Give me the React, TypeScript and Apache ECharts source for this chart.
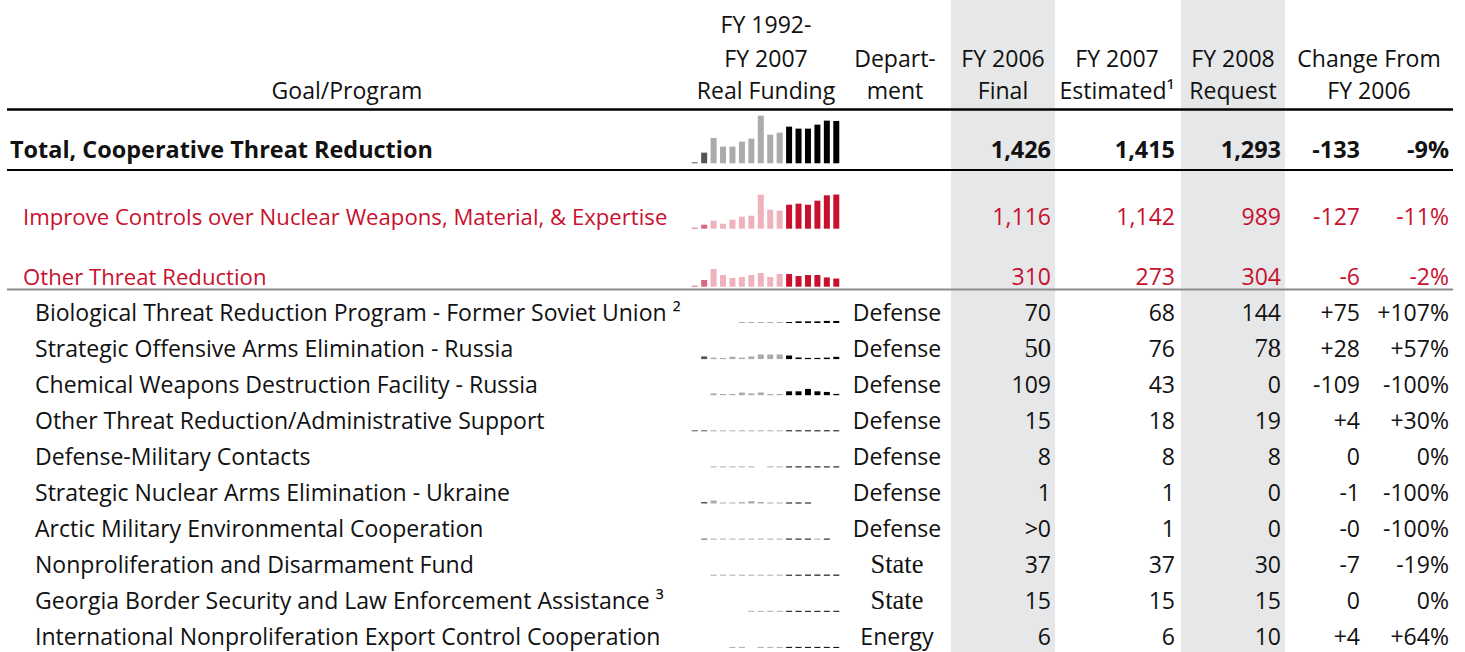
import React, { useEffect, useRef } from "react";
import * as echarts from "echarts";

// ---------- DATA ----------
const YEARS = ["1992","1993","1994","1995","1996","1997","1998","1999","2000","2001","2002","2003","2004","2005","2006","2007"];

const PROGRAMS = [
  "Total, Cooperative Threat Reduction",
  "Improve Controls over Nuclear Weapons, Material, & Expertise",
  "Other Threat Reduction",
  "Biological Threat Reduction Program - Former Soviet Union \u00B2",
  "Strategic Offensive Arms Elimination - Russia",
  "Chemical Weapons Destruction Facility - Russia",
  "Other Threat Reduction/Administrative Support",
  "Defense-Military Contacts",
  "Strategic Nuclear Arms Elimination - Ukraine",
  "Arctic Military Environmental Cooperation",
  "Nonproliferation and Disarmament Fund",
  "Georgia Border Security and Law Enforcement Assistance \u00B3",
  "International Nonproliferation Export Control Cooperation",
];
const DEPARTMENTS = ["", "", "", "Defense", "Defense", "Defense", "Defense", "Defense", "Defense", "Defense", "State", "State", "Energy"];
const FY2006_FINAL = ["1,426", "1,116", "310", "70", "50", "109", "15", "8", "1", ">0", "37", "15", "6"];
const FY2007_ESTIMATED = ["1,415", "1,142", "273", "68", "76", "43", "18", "8", "1", "1", "37", "15", "6"];
const FY2008_REQUEST = ["1,293", "989", "304", "144", "78", "0", "19", "8", "0", "0", "30", "15", "10"];
const CHANGE_ABS = ["-133", "-127", "-6", "+75", "+28", "-109", "+4", "0", "-1", "-0", "-7", "0", "+4"];
const CHANGE_PCT = ["-9%", "-11%", "-2%", "+107%", "+57%", "-100%", "+30%", "0%", "-100%", "-100%", "-19%", "0%", "+64%"];

// Real funding FY1992-FY2007 (millions), read from the sparklines
const TOTAL_FUNDING = [22, 356, 847, 557, 557, 724, 824, 1593, 958, 1025, 1225, 1159, 1159, 1292, 1426, 1415];
const NUCLEAR_FUNDING = [12, 134, 267, 167, 301, 401, 434, 1136, 635, 602, 802, 836, 802, 936, 1116, 1142];
const OTHER_FUNDING = [10, 223, 590, 390, 290, 323, 390, 457, 323, 423, 423, 356, 390, 390, 310, 273];
const BIO_FUNDING = [null, null, null, null, null, 30, 30, 30, 30, 30, 25, 55, 55, 55, 70, 68];
const SOAE_FUNDING = [null, 90, 50, 35, 80, 50, 90, 155, 155, 155, 120, 55, 40, 40, 50, 76];
const CHEM_FUNDING = [null, null, 60, 40, 40, 90, 60, 90, 40, 40, 130, 130, 210, 130, 109, 43];
const ADMIN_FUNDING = [20, 20, 20, 25, 20, 20, 25, 20, 20, 20, 15, 15, 15, 15, 15, 18];
const MIL_FUNDING = [null, null, 10, 10, 10, 10, 10, null, 10, 10, 8, 8, 8, 8, 8, 8];
const UKR_FUNDING = [null, 50, 100, 25, 25, 45, 80, 50, 25, 25, 20, 20, 20, null, null, null];
const ARCTIC_FUNDING = [null, 5, 5, 5, 5, 5, 5, 5, 5, 5, 5, 5, 5, 5, 5, null];
const NDF_FUNDING = [null, null, 25, 25, 25, 25, 25, 25, 25, 25, 30, 30, 37, 37, 37, 37];
const GEORGIA_FUNDING = [null, null, null, null, null, null, 15, 15, 15, 15, 15, 15, 15, 15, 15, 15];
const INECC_FUNDING = [null, null, null, null, 8, 8, null, 8, 8, 8, 6, 6, 6, 6, 6, 6];

const FUNDING = [TOTAL_FUNDING, NUCLEAR_FUNDING, OTHER_FUNDING, BIO_FUNDING, SOAE_FUNDING, CHEM_FUNDING, ADMIN_FUNDING, MIL_FUNDING, UKR_FUNDING, ARCTIC_FUNDING, NDF_FUNDING, GEORGIA_FUNDING, INECC_FUNDING];

// tone per year: D = early, L = middle, B = recent
const DEFAULT_TONES = "DDLLLLLLLLBBBBBB";
const ARCTIC_TONES = "DDLLLLLLLLBBBLBB";
const ROW_TONES = [DEFAULT_TONES, DEFAULT_TONES, DEFAULT_TONES, DEFAULT_TONES, DEFAULT_TONES, DEFAULT_TONES, DEFAULT_TONES, DEFAULT_TONES, DEFAULT_TONES, ARCTIC_TONES, DEFAULT_TONES, DEFAULT_TONES, DEFAULT_TONES];

// ---------- STYLE ----------
const SANS = "'Open Sans', sans-serif";
const SERIF = "'Liberation Serif', serif";
const RED = "#c8102e";
const INK = "#111111";
const GRAY_PAL: Record<string, string> = { D: "#555555", L: "#ababab", B: "#000000" };
const RED_PAL: Record<string, string> = { D: "#d8687f", L: "#efb1bc", B: "#c8102e" };
const SERIF_CELLS = new Set(["4:fy06", "4:fy08", "10:dept", "11:dept"]);

function measure(text: string, font: string) {
  const c = document.createElement("canvas").getContext("2d")!;
  c.font = font;
  return c.measureText(text).width;
}

export default function App() {
  const ref = useRef<HTMLDivElement>(null);
  useEffect(() => {
    if (!ref.current) return;
    const chart = echarts.init(ref.current, null, { renderer: "svg" });

    const fit = (text: string, target: number, weight: string) =>
      Math.min(24, Math.max(16, (100 * target) / (measure(text, `${weight} 100px ${SANS}`) || 2743)));
    const bodySize = fit("Biological Threat Reduction Program - Former Soviet Union", 632, "normal");
    const boldSize = fit("Total, Cooperative Threat Reduction", 423, "bold");
    const redSize = fit("Improve Controls over Nuclear Weapons, Material, & Expertise", 645, "normal");
    const serifSize = bodySize * 1.15;

    const rowY = (i: number) => (i === 0 ? 149 : i === 1 ? 216 : i === 2 ? 276 : 312 + 36 * (i - 3));
    const baseY = (i: number) => (i === 0 ? 163.3 : i === 1 ? 228.7 : i === 2 ? 286.7 : 323 + 36.1 * (i - 3));

    const elements: any[] = [];
    const txt = (x: number, y: number, text: string, opts: any = {}) => {
      const align = opts.align || "left";
      elements.push({
        type: "text",
        x, y, z: 10,
        style: {
          text,
          fill: opts.fill || INK,
          fontSize: opts.size || bodySize,
          fontFamily: opts.family || SANS,
          fontWeight: opts.weight || "normal",
          align, verticalAlign: "middle",
          textAlign: align, textVerticalAlign: "middle",
        },
      });
    };

    // shaded columns
    elements.push({ type: "rect", z: 0, shape: { x: 951, y: 0, width: 104, height: 652 }, style: { fill: "#e6e7e8" } });
    elements.push({ type: "rect", z: 0, shape: { x: 1181, y: 0, width: 104, height: 652 }, style: { fill: "#e6e7e8" } });
    // rules
    elements.push({ type: "line", z: 5, shape: { x1: 7, y1: 109.5, x2: 1453, y2: 109.5 }, style: { stroke: "#000", lineWidth: 2.5 } });
    elements.push({ type: "line", z: 5, shape: { x1: 7, y1: 170, x2: 1453, y2: 170 }, style: { stroke: "#000", lineWidth: 2 } });
    elements.push({ type: "line", z: 5, shape: { x1: 7, y1: 289.5, x2: 1453, y2: 289.5 }, style: { stroke: "#8c8c8c", lineWidth: 2 } });

    // header
    txt(347, 90, "Goal/Program", { align: "center" });
    txt(766, 24, "FY 1992-", { align: "center" });
    txt(766, 58, "FY 2007", { align: "center" });
    txt(766, 90, "Real Funding", { align: "center" });
    txt(895, 58, "Depart-", { align: "center" });
    txt(895, 90, "ment", { align: "center" });
    txt(1003, 58, "FY 2006", { align: "center" });
    txt(1003, 90, "Final", { align: "center" });
    txt(1117, 58, "FY 2007", { align: "center" });
    txt(1117, 90, "Estimated\u00B9", { align: "center" });
    txt(1233, 58, "FY 2008", { align: "center" });
    txt(1233, 90, "Request", { align: "center" });
    txt(1369, 58, "Change From", { align: "center" });
    txt(1369, 90, "FY 2006", { align: "center" });

    // rows
    PROGRAMS.forEach((name, i) => {
      const y = rowY(i);
      const isTotal = i === 0;
      const isRed = i === 1 || i === 2;
      const fill = isRed ? RED : INK;
      const weight = isTotal ? "bold" : "normal";
      const size = isTotal ? boldSize : bodySize;
      const x = isTotal ? 10 : isRed ? 23 : 35;
      txt(x, y, name, { fill, weight, size: isRed ? redSize : size });
      if (DEPARTMENTS[i]) {
        const serif = SERIF_CELLS.has(i + ":dept");
        txt(897, y, DEPARTMENTS[i], { align: "center", family: serif ? SERIF : SANS, size: serif ? serifSize : bodySize });
      }
      const cells: [string, number, string][] = [
        [FY2006_FINAL[i], 1051, "fy06"],
        [FY2007_ESTIMATED[i], 1175, "fy07"],
        [FY2008_REQUEST[i], 1281, "fy08"],
        [CHANGE_ABS[i], 1360, "chg"],
        [CHANGE_PCT[i], 1449, "pct"],
      ];
      cells.forEach(([v, cx, key]) => {
        const serif = SERIF_CELLS.has(i + ":" + key);
        txt(cx, y, v, { align: "right", fill, weight, size: serif ? serifSize : size, family: serif ? SERIF : SANS });
      });
    });

    // sparklines
    const grid: any[] = [];
    const xAxis: any[] = [];
    const yAxis: any[] = [];
    const series: any[] = [];
    FUNDING.forEach((vals, i) => {
      const b = baseY(i);
      const pal = i === 1 || i === 2 ? RED_PAL : GRAY_PAL;
      const tones = ROW_TONES[i];
      grid.push({ left: 690, top: b - 50, width: 151, height: 50 });
      xAxis.push({ type: "category", gridIndex: i, data: YEARS, show: false, boundaryGap: true });
      yAxis.push({ type: "value", gridIndex: i, min: 0, max: 1671, show: false });
      series.push({
        type: "bar",
        xAxisIndex: i,
        yAxisIndex: i,
        barWidth: 6,
        barMinHeight: 1,
        silent: true,
        data: vals.map((v, k) => (v == null ? "-" : { value: v, itemStyle: { color: pal[tones[k]] } })),
      });
    });

    chart.setOption({
      animation: false,
      grid,
      xAxis,
      yAxis,
      series,
      graphic: { elements },
    });
    return () => chart.dispose();
  }, []);
  return <div ref={ref} style={{ position: "fixed", left: 0, top: 0, width: 1465, height: 652, background: "#fff" }} />;
}
